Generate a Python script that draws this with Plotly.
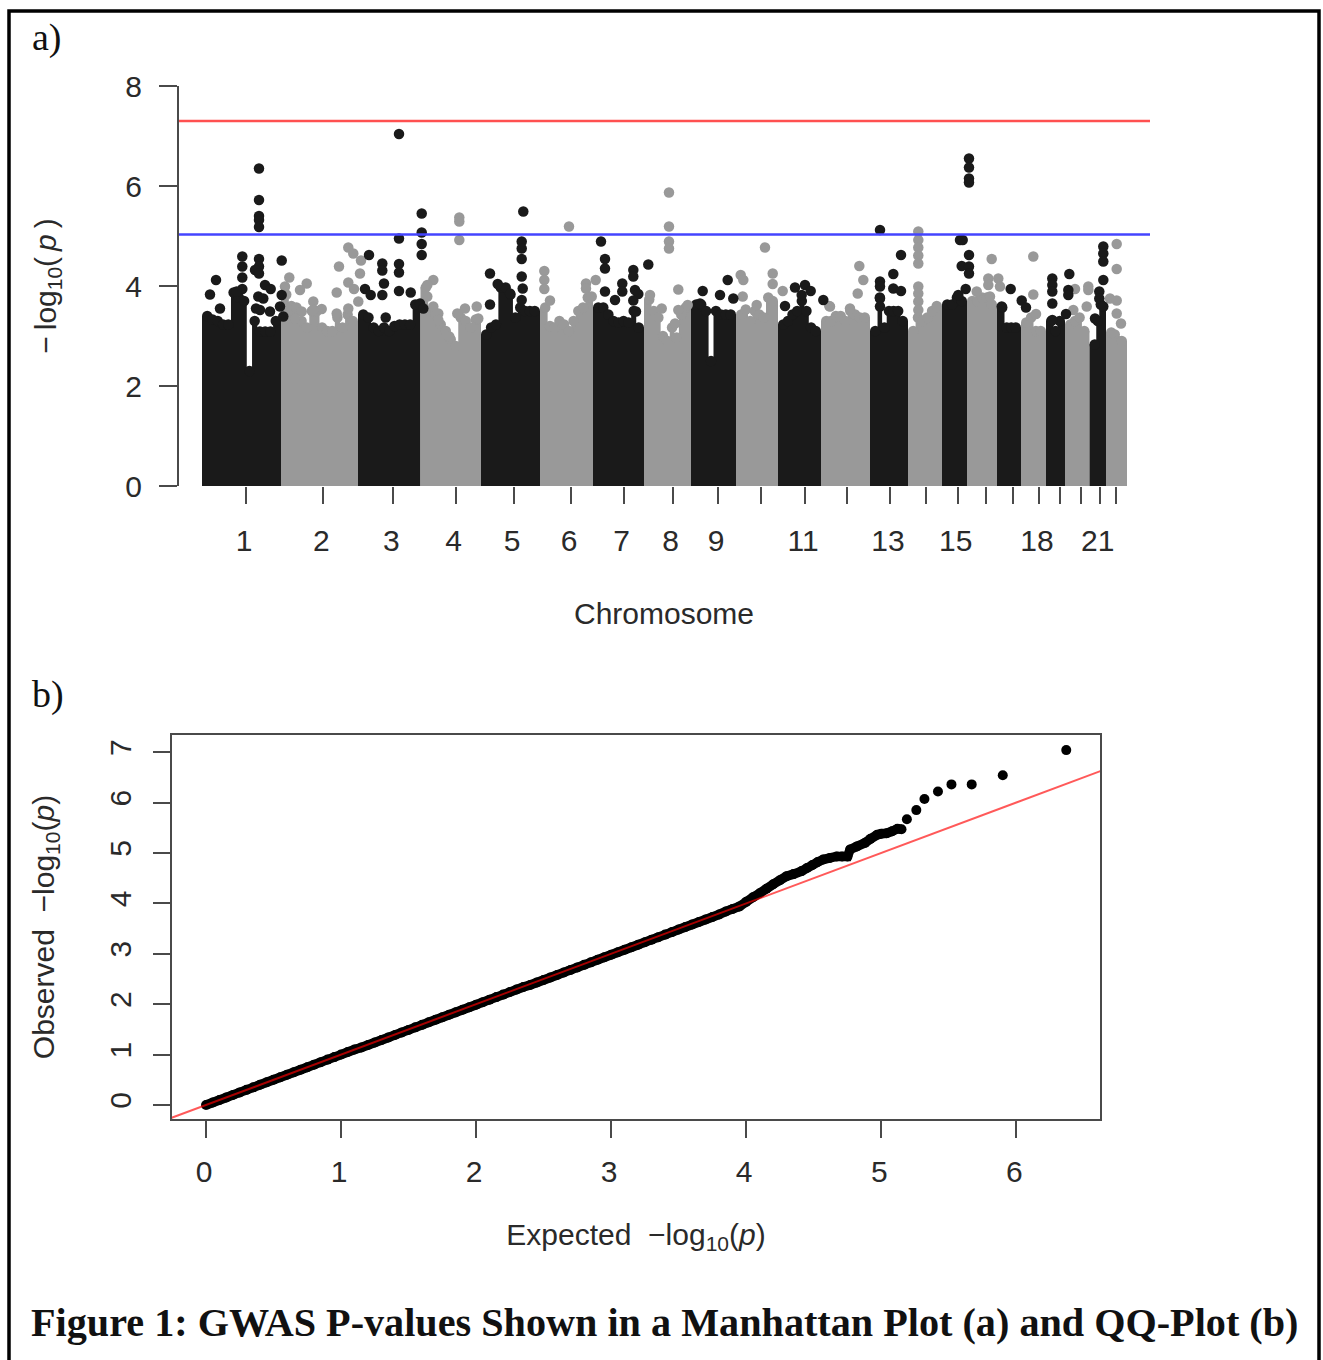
import numpy as np
import plotly.graph_objects as go

W, H = 1323, 1360
BLACK = "#1a1a1a"
GRAY = "#999999"
INK = "#2a2a2a"
AXIS = "#4a4a4a"
DOT = 10.5

# ---- Manhattan data (position along the genome, -log10 p) ----
CHROM_EDGES = [0, 79, 156, 218.5, 279, 338, 391, 442, 489, 534, 576, 619, 668, 706, 740, 765, 795, 819, 844, 863, 887.5, 904, 925]
TICK_POS = [44, 121.3, 191.3, 253.7, 312, 369, 421.7, 470.7, 516, 603, 688, 755.7, 837, 897.7]
TICK_TEXT = ["1", "2", "3", "4", "5", "6", "7", "8", "9", "11", "13", "15", "18", "21"]
UNLABELLED_TICK_POS = [559.3, 644.7, 723.7, 784, 810.7, 857.7, 878.7, 914.3]

TOP_1 = [3.40, 3.33, 3.30, 3.23, 3.23, 3.87, 3.77, 3.70, 2.30, 3.30, 3.09, 3.09, 3.09, 3.30]
TOP_2 = [3.83, 3.60, 3.57, 3.30, 3.17, 3.50, 3.50, 3.17, 3.10, 3.10, 3.37, 3.17, 3.43, 3.30]
TOP_3 = [3.43, 3.37, 3.17, 3.10, 3.17, 3.10, 3.20, 3.23, 3.23, 3.23, 3.63]
TOP_4 = [3.97, 3.50, 3.43, 3.23, 3.10, 2.93, 2.80, 3.37, 3.30, 3.17, 3.33]
TOP_5 = [3.03, 3.17, 3.23, 3.97, 3.97, 3.83, 3.37, 3.57, 3.50, 3.50, 3.50]
TOP_6 = [3.57, 3.20, 3.17, 3.30, 3.23, 3.10, 3.30, 3.50, 3.57, 3.77]
TOP_7 = [3.57, 3.57, 3.43, 3.30, 3.27, 3.30, 3.27, 3.50, 3.17]
TOP_8 = [3.73, 3.50, 3.37, 3.00, 2.90, 3.17, 2.97, 3.43, 3.57]
TOP_9 = [3.63, 3.63, 3.50, 2.50, 3.50, 3.43, 3.43, 3.43]
TOP_10 = [3.43, 3.53, 3.30, 3.50, 3.43, 3.37, 3.77, 3.70]
TOP_11 = [3.23, 3.30, 3.43, 3.50, 3.70, 3.50, 3.17, 3.10]
TOP_12 = [3.30, 3.30, 3.40, 3.40, 3.30, 3.50, 3.43, 3.37, 3.37]
TOP_13 = [3.10, 3.77, 3.17, 3.50, 3.50, 3.50, 3.30]
TOP_14 = [3.10, 3.37, 3.30, 3.37, 3.50, 3.60]
TOP_15 = [3.63, 3.63, 3.77, 3.70]
TOP_16 = [3.70, 3.70, 3.77, 3.77, 3.63]
TOP_17 = [3.57, 3.17, 3.17, 3.17]
TOP_18 = [3.27, 3.37, 3.10, 3.10]
TOP_19 = [3.30, 3.10, 3.30]
TOP_20 = [3.23, 3.30, 3.37, 3.10]
TOP_21 = [2.83, 3.30, 3.63]
TOP_22 = [3.07, 3.03, 2.90, 2.90]
TOPS = [TOP_1, TOP_2, TOP_3, TOP_4, TOP_5, TOP_6, TOP_7, TOP_8, TOP_9, TOP_10, TOP_11,
        TOP_12, TOP_13, TOP_14, TOP_15, TOP_16, TOP_17, TOP_18, TOP_19, TOP_20, TOP_21, TOP_22]

PEAK_BLACK_X = [8, 14, 18, 40.3, 40.3, 40.3, 40.3, 34.7, 57, 57, 57, 57, 57, 57, 57, 53, 57, 63, 68.7, 56.3, 61.3, 79.7, 79.7, 54, 58, 68, 78, 81.3,
                197, 197, 197, 197, 197, 167, 180.3, 180.3, 182, 163, 168.7, 180.3, 183.7, 208.7, 219.7, 219.7, 219.7, 219.7, 218, 221.3,
                288, 288, 295.7, 321.3, 319.7, 319.7, 319.7, 319.7, 320.7, 319.7, 308,
                399, 403, 403, 431.3, 431.3, 446.3, 420.3, 420.3, 413, 403, 433, 436.3, 431.3, 434,
                500.7, 525.7, 518, 531.3, 498, 593, 603, 608.7, 621.3, 583, 599.7,
                678, 699, 691.3, 678, 678, 678, 678, 691.3, 699,
                767, 767, 767, 767, 758, 760.7, 767, 759.7, 767, 767, 763.7, 756.3,
                808.7, 819.7, 824, 799.7, 850.3, 850.3, 850.3, 850.3, 850.3, 867.3, 866.3, 866.3, 864,
                901.3, 901.3, 901.3, 901.3, 897.3, 897.3, 901.3, 893]
PEAK_BLACK_Y = [3.83, 4.12, 3.55, 4.59, 4.39, 4.17, 3.94, 3.89, 6.35, 5.72, 5.40, 5.32, 5.18, 4.54, 4.39, 4.32, 4.25, 4.02, 3.94, 3.79, 3.75, 4.51, 3.82, 3.55, 3.52, 3.49, 3.59, 3.39,
                7.04, 4.95, 4.44, 4.27, 3.90, 4.62, 4.45, 4.31, 4.05, 3.94, 3.82, 3.82, 3.37, 3.87, 5.45, 5.07, 4.84, 4.62, 3.65, 3.55,
                4.25, 3.63, 4.04, 5.49, 4.89, 4.75, 4.54, 4.19, 3.95, 3.72, 3.85,
                4.89, 4.54, 4.35, 4.32, 4.19, 4.43, 4.05, 3.89, 3.72, 3.89, 3.92, 3.84, 3.71, 3.49,
                3.90, 4.12, 3.82, 3.75, 3.65, 3.97, 4.02, 3.90, 3.72, 3.60, 3.82,
                5.12, 4.62, 4.24, 4.09, 3.99, 3.75, 3.59, 3.95, 3.90,
                6.55, 6.37, 6.15, 6.07, 4.92, 4.92, 4.62, 4.40, 4.39, 4.25, 3.94, 3.82,
                3.94, 3.71, 3.57, 3.59, 4.15, 4.02, 3.89, 3.65, 3.32, 4.24, 3.92, 3.82, 3.44,
                4.79, 4.65, 4.49, 4.12, 3.89, 3.75, 3.59, 3.35]
PEAK_GRAY_X = [87.3, 83, 104.7, 98, 99.7, 111.3, 119.7, 146.3, 151.3, 137, 134.7, 159, 158, 146.3, 152, 156.3, 146.3, 93, 111.3, 134.7,
               257.3, 257.3, 257.3, 231.3, 225.3, 225.3, 231.3, 236.3, 236.3, 247.3, 263, 255.3, 274.7, 276.3,
               367, 342.3, 342.3, 342.3, 348, 393.7, 384, 384, 389.7,
               467, 467, 467, 467, 476.3, 448, 459.7, 476.3, 473, 485.7,
               563, 538.7, 541.3, 540.7, 570.7, 570.7, 580.7, 554.7, 627.3, 657.3, 661.3, 655.7, 628, 648,
               716.3, 716.3, 716.3, 716.3, 716.3, 716.3, 716.3, 716.3, 716.3,
               789.7, 786.3, 796.3, 786.3, 798, 774.7, 788, 831.3, 831.3, 834,
               873, 886.3, 886.3, 884.7, 871.3, 914.7, 914.7, 908, 914.7, 914.7, 919]
PEAK_GRAY_Y = [4.17, 3.99, 4.05, 3.92, 3.49, 3.69, 3.54, 4.77, 4.65, 4.39, 3.87, 4.51, 4.25, 4.07, 3.94, 3.69, 3.55, 3.35, 3.52, 3.45,
               5.37, 5.29, 4.92, 4.12, 4.02, 3.79, 3.59, 3.45, 3.32, 2.99, 3.55, 3.45, 3.59, 3.35,
               5.19, 4.30, 4.12, 3.94, 3.71, 4.12, 4.05, 3.95, 3.79,
               5.87, 5.19, 4.89, 4.75, 3.93, 3.82, 3.55, 3.52, 3.25, 3.62,
               4.77, 4.22, 4.12, 3.79, 4.25, 4.04, 3.90, 3.62, 3.60, 4.40, 4.12, 3.85, 3.59, 3.55,
               5.09, 4.92, 4.77, 4.61, 4.45, 3.99, 3.85, 3.69, 3.52,
               4.54, 4.15, 4.15, 4.02, 3.99, 3.89, 3.79, 4.59, 3.83, 3.44,
               3.94, 3.99, 3.92, 3.59, 3.52, 4.84, 4.34, 3.75, 3.71, 3.45, 3.25]
GENOME_WIDE = 7.3
SUGGESTIVE = 5.03

# ---- QQ data ----
QQ_EXPECTED = [0.00, 0.05, 0.10, 0.15, 0.20, 0.25, 0.30, 0.35, 0.40, 0.45, 0.50, 0.55, 0.60, 0.65, 0.70, 0.75, 0.80, 0.85, 0.90, 0.95,
               1.00, 1.05, 1.10, 1.15, 1.20, 1.25, 1.30, 1.35, 1.40, 1.45, 1.50, 1.55, 1.60, 1.65, 1.70, 1.75, 1.80, 1.85, 1.90, 1.95,
               2.00, 2.05, 2.10, 2.15, 2.20, 2.25, 2.30, 2.35, 2.40, 2.45, 2.50, 2.55, 2.60, 2.65, 2.70, 2.75, 2.80, 2.85, 2.90, 2.95,
               3.00, 3.05, 3.10, 3.15, 3.20, 3.25, 3.30, 3.35, 3.40, 3.45, 3.50, 3.55, 3.60, 3.65, 3.70, 3.75, 3.80, 3.85, 3.90, 3.95,
               4.00, 4.05, 4.10, 4.15, 4.20, 4.25, 4.30, 4.35, 4.41, 4.45, 4.49, 4.53, 4.57, 4.62, 4.67, 4.71, 4.75, 4.77, 4.82, 4.88,
               4.92, 4.97, 5.00, 5.04, 5.08, 5.12, 5.15]
QQ_OBSERVED = [0.00, 0.05, 0.10, 0.15, 0.20, 0.25, 0.30, 0.35, 0.40, 0.45, 0.50, 0.55, 0.60, 0.65, 0.70, 0.75, 0.80, 0.85, 0.90, 0.95,
               1.00, 1.05, 1.10, 1.14, 1.19, 1.24, 1.29, 1.34, 1.39, 1.44, 1.49, 1.54, 1.59, 1.64, 1.69, 1.74, 1.79, 1.84, 1.89, 1.94,
               1.99, 2.04, 2.09, 2.14, 2.19, 2.24, 2.29, 2.34, 2.38, 2.43, 2.48, 2.53, 2.58, 2.63, 2.68, 2.73, 2.78, 2.83, 2.88, 2.93,
               2.98, 3.03, 3.08, 3.13, 3.18, 3.23, 3.28, 3.33, 3.38, 3.43, 3.48, 3.53, 3.58, 3.63, 3.68, 3.73, 3.78, 3.84, 3.89, 3.94,
               4.03, 4.12, 4.20, 4.29, 4.38, 4.46, 4.54, 4.58, 4.64, 4.70, 4.76, 4.82, 4.87, 4.90, 4.93, 4.93, 4.93, 5.07, 5.13, 5.20,
               5.28, 5.36, 5.38, 5.39, 5.43, 5.48, 5.47]
QQ_TAIL_EXPECTED = [5.19, 5.26, 5.32, 5.42, 5.52, 5.67, 5.90, 6.37]
QQ_TAIL_OBSERVED = [5.67, 5.85, 6.07, 6.22, 6.36, 6.36, 6.54, 7.04]

fig = go.Figure()

# Manhattan body, one block per chromosome, in plot order
for i, top in enumerate(TOPS):
    colour = BLACK if i % 2 == 0 else GRAY
    left, right = CHROM_EDGES[i], CHROM_EDGES[i + 1]
    centres = np.linspace(left + DOT / 2, right - DOT / 2, len(top))
    fig.add_trace(go.Scatter(
        x=[left] + centres.tolist() + [right], y=[top[0]] + top + [top[-1]],
        mode="lines", line=dict(width=0, shape="hvh", color=colour),
        fill="tozeroy", fillcolor=colour, hoverinfo="skip", xaxis="x", yaxis="y"))
    fig.add_trace(go.Scatter(x=centres, y=top, mode="markers",
                             marker=dict(size=DOT, color=colour), xaxis="x", yaxis="y"))

fig.add_trace(go.Scatter(x=PEAK_GRAY_X, y=PEAK_GRAY_Y, mode="markers",
                         marker=dict(size=DOT, color=GRAY), xaxis="x", yaxis="y"))
fig.add_trace(go.Scatter(x=PEAK_BLACK_X, y=PEAK_BLACK_Y, mode="markers",
                         marker=dict(size=DOT, color=BLACK), xaxis="x", yaxis="y"))

X_RANGE = [-24, 948]
fig.add_trace(go.Scatter(x=X_RANGE, y=[GENOME_WIDE] * 2, mode="lines",
                         line=dict(color="#ff5050", width=2.5), xaxis="x", yaxis="y"))
fig.add_trace(go.Scatter(x=X_RANGE, y=[SUGGESTIVE] * 2, mode="lines",
                         line=dict(color="#4444ff", width=2.5), xaxis="x", yaxis="y"))

# QQ panel
fig.add_trace(go.Scatter(x=QQ_EXPECTED, y=QQ_OBSERVED, mode="lines+markers",
                         line=dict(color="#000000", width=9.5, simplify=False),
                         marker=dict(size=10, color="#000000"), xaxis="x2", yaxis="y2"))
fig.add_trace(go.Scatter(x=QQ_TAIL_EXPECTED, y=QQ_TAIL_OBSERVED, mode="markers",
                         marker=dict(size=10, color="#000000"), xaxis="x2", yaxis="y2"))
QQ_X_RANGE = [-0.252, 6.62]
QQ_Y_RANGE = [-0.278, 7.34]
fig.add_trace(go.Scatter(x=[-0.278, 6.65], y=[-0.278, 6.65], mode="lines",
                         line=dict(color="rgba(255,0,0,0.65)", width=2), xaxis="x2", yaxis="y2"))

tickfont = dict(family="Liberation Sans", size=30, color=INK)
titlefont = dict(family="Liberation Sans", size=30, color=INK)

fig.update_layout(
    width=W, height=H, autosize=False, showlegend=False,
    margin=dict(l=0, r=0, t=0, b=0, pad=0),
    paper_bgcolor="white", plot_bgcolor="white",
    xaxis=dict(domain=[178 / W, 1150 / W], range=X_RANGE, anchor="y", automargin=False, showgrid=False, zeroline=False,
               showline=False, ticks="outside", ticklen=17, tickwidth=2, tickcolor=AXIS,
               tickmode="array", tickvals=TICK_POS, ticktext=TICK_TEXT, tickfont=tickfont,
               tickangle=0, ticklabelshift=-2, ticklabelstandoff=11,
               minor=dict(tickmode="array", tickvals=UNLABELLED_TICK_POS, ticks="outside", ticklen=17,
                          tickwidth=2, tickcolor=AXIS, showgrid=False),
               title=dict(text="Chromosome", font=titlefont, standoff=46)),
    yaxis=dict(domain=[1 - 486 / H, 1 - 86 / H], range=[0, 8], anchor="free", position=178 / W, automargin=False,
               showgrid=False, zeroline=False,
               showline=True, linewidth=2, linecolor=AXIS, ticks="outside", ticklen=18, tickwidth=2, tickcolor=AXIS,
               tickmode="array", tickvals=[0, 2, 4, 6, 8], tickfont=tickfont, tickangle=0,
               ticklabelstandoff=11,
               title=dict(text="\u2212\u2009log<sub>10</sub>(\u2009<i>p</i>\u2009)", font=titlefont, standoff=59)),
    xaxis2=dict(domain=[172 / W, 1100 / W], range=QQ_X_RANGE, anchor="y2", automargin=False, showgrid=False, zeroline=False,
                showline=True, mirror=True, linewidth=2, linecolor=AXIS, ticks="outside", ticklen=17, tickwidth=2,
                tickcolor=AXIS, tickmode="array", tickvals=[0, 1, 2, 3, 4, 5, 6], tickfont=tickfont,
                tickangle=0, ticklabelshift=-2, ticklabelstandoff=8,
                title=dict(text="Expected  \u2212log<sub>10</sub>(<i>p</i>)", font=titlefont, standoff=37)),
    yaxis2=dict(domain=[1 - 1119 / H, 1 - 735 / H], range=QQ_Y_RANGE, anchor="x2", automargin=False, showgrid=False, zeroline=False,
                showline=True, mirror=True, linewidth=2, linecolor=AXIS, ticks="outside", ticklen=17, tickwidth=2,
                tickcolor=AXIS, tickmode="array", tickvals=[0, 1, 2, 3, 4, 5, 6, 7], tickfont=tickfont,
                tickangle=-90, ticklabelstandoff=10,
                title=dict(text="Observed  \u2212log<sub>10</sub>(<i>p</i>)", font=titlefont, standoff=41)),
    shapes=[dict(type="rect", xref="paper", yref="paper", x0=9 / W, x1=1319 / W, y0=-0.01, y1=1 - 11 / H,
                 line=dict(color="#000000", width=3.5), fillcolor="rgba(0,0,0,0)", layer="below")],
    annotations=[
        dict(text="a)", xref="paper", yref="paper", x=30 / W, y=1 - 37 / H, xanchor="left", yanchor="middle",
             showarrow=False, font=dict(family="Liberation Serif", size=38, color="#111111")),
        dict(text="b)", xref="paper", yref="paper", x=30 / W, y=1 - 694 / H, xanchor="left", yanchor="middle",
             showarrow=False, font=dict(family="Liberation Serif", size=38, color="#111111")),
        dict(text="<b>Figure 1: GWAS P-values Shown in a Manhattan Plot (a) and QQ-Plot (b)</b>",
             xref="paper", yref="paper", x=29 / W, y=1 - 1322 / H, xanchor="left", yanchor="middle",
             showarrow=False, font=dict(family="Liberation Serif", size=40.2, color="#111111")),
    ],
)

fig.write_html("out.html", config={"displayModeBar": False}, post_script="document.body.style.margin='0';")
